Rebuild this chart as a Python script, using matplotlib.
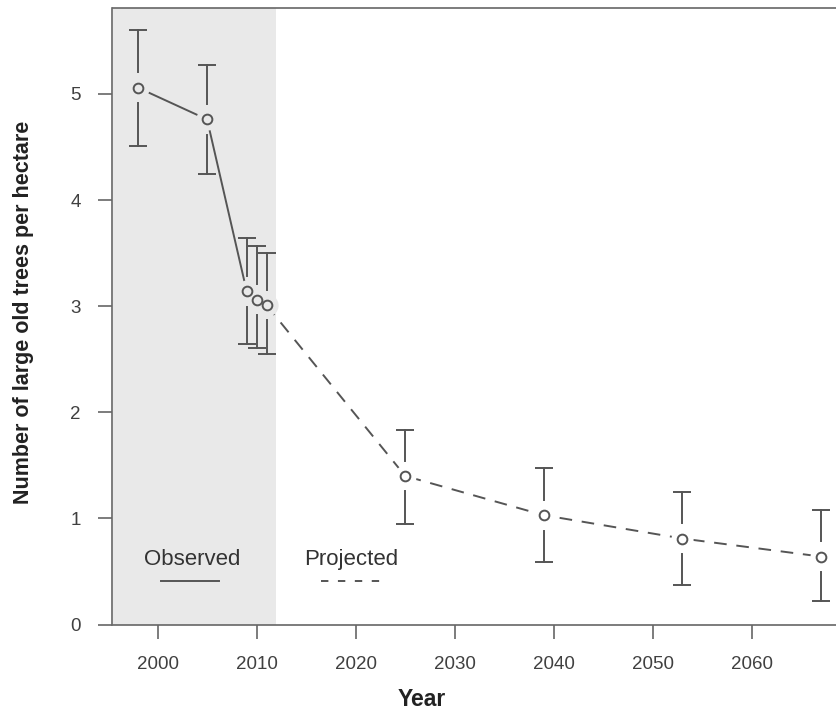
import numpy as np
import matplotlib
matplotlib.use('Agg')
import matplotlib.pyplot as plt

plt.rcParams['font.family'] = ['Liberation Sans', 'DejaVu Sans']

# observed and projected values
obs_year = [1998, 2005, 2009, 2010, 2011]
obs_mean = [5.06, 4.76, 3.14, 3.06, 3.01]
obs_low = [4.51, 4.25, 2.64, 2.61, 2.55]
obs_high = [5.60, 5.27, 3.64, 3.57, 3.50]

proj_year = [2011, 2025, 2039, 2053, 2067]
proj_mean = [3.01, 1.40, 1.03, 0.81, 0.64]
proj_low = [2.55, 0.95, 0.59, 0.375, 0.22]
proj_high = [3.50, 1.83, 1.475, 1.25, 1.08]

x_ticks = [2000, 2010, 2020, 2030, 2040, 2050, 2060]
y_ticks = [0, 1, 2, 3, 4, 5]
shade_end = 2012

line_col = '#555555'
shade_col = '#e9e9e9'

fig = plt.figure(figsize=(8.37, 7.11), dpi=100)
ax = fig.add_axes([112.5 / 837, (711 - 624.5) / 711, 1 - 112.5 / 837, 616.5 / 711])
ax.set_xlim(1995.45, 2068.6)
ax.set_ylim(0, 5.81)

ax.axvspan(ax.get_xlim()[0], shade_end, color=shade_col, lw=0, zorder=0)

# lines between points
ax.plot(obs_year, obs_mean, color=line_col, lw=1.4, zorder=1)
ax.plot(proj_year, proj_mean, color=line_col, lw=1.4, ls=(0, (6.5, 5)), zorder=1)

# gaps around the points (R type="b" look)
years = obs_year + proj_year[1:]
means = obs_mean + proj_mean[1:]
lows = obs_low + proj_low[1:]
highs = obs_high + proj_high[1:]
for yr, m in zip(years, means):
    bg = shade_col if yr < shade_end else 'white'
    ax.plot(yr, m, 'o', ms=16, mfc=bg, mec='none', zorder=2)

# error bars with a gap around the point
gap = 0.145
for yr, m, lo, hi in zip(years, means, lows, highs):
    ax.plot([yr, yr], [m + gap, hi], color=line_col, lw=1.4, zorder=3)
    ax.plot([yr, yr], [lo, m - gap], color=line_col, lw=1.4, zorder=3)
    ax.plot(yr, hi, marker='_', ms=13, mew=1.4, color=line_col, zorder=3)
    ax.plot(yr, lo, marker='_', ms=13, mew=1.4, color=line_col, zorder=3)

ax.plot(years, means, 'o', ls='none', ms=7, mfc='none', mec=line_col, mew=1.4, zorder=4)

# legend drawn inside the plot
ax.text(2003.5, 0.61, 'Observed', ha='center', va='center', fontsize=16, color='#333333')
ax.plot([2000.3, 2006.2], [0.41, 0.41], color=line_col, lw=1.4)
ax.text(2019.5, 0.61, 'Projected', ha='center', va='center', fontsize=16, color='#333333')
ax.plot([2016.5, 2022.6], [0.41, 0.41], color=line_col, lw=1.4, ls=(0, (3.8, 4.9)))

ax.set_xticks(x_ticks)
ax.set_yticks(y_ticks)
ax.tick_params(direction='out', length=10, width=1.2, color='#666666',
               labelsize=13.5, labelcolor='#404040', pad=13)
for s in ['left', 'bottom', 'top']:
    ax.spines[s].set_color('#666666')
    ax.spines[s].set_linewidth(1.2)
ax.spines['right'].set_visible(False)

ax.set_xlabel('Year', fontsize=16.5, fontweight='bold', color='#222222')
ax.xaxis.set_label_coords(0.427, -0.122)
ax.xaxis.label.set_va('center')
ax.set_ylabel('Number of large old trees per hectare', fontsize=15.5,
              fontweight='bold', color='#222222')
ax.yaxis.set_label_coords(-0.1235, 0.507)
ax.yaxis.label.set_va('center')

fig.savefig('out.png', dpi=100)
